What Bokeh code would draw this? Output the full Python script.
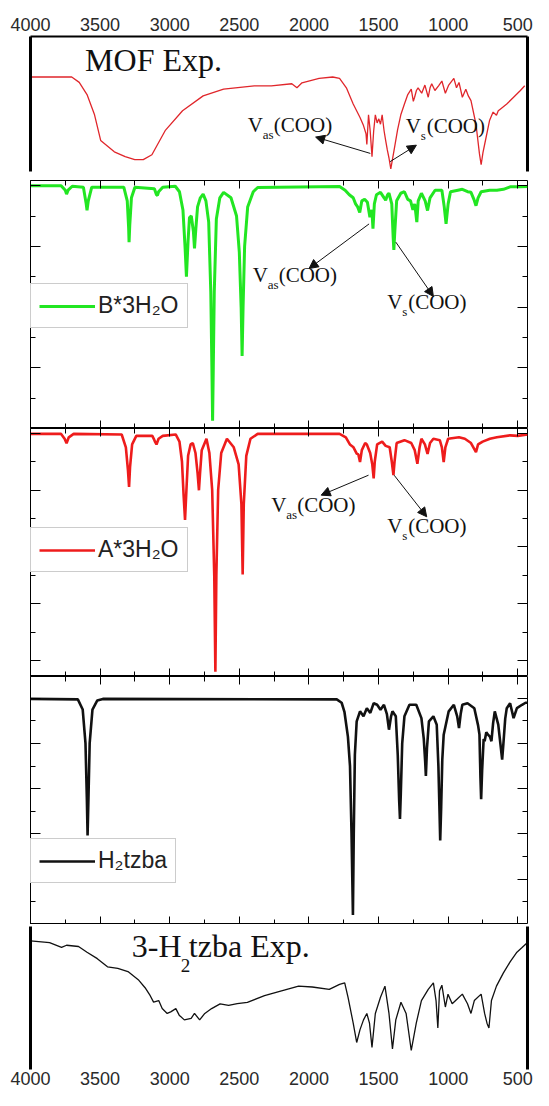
from bokeh.plotting import figure
from bokeh.models import (Range1d, LinearAxis, FixedTicker, Arrow, NormalHead, Label,
                          Legend, LegendItem)
from bokeh.layouts import column
from bokeh.embed import file_html
from bokeh.resources import INLINE

# ---------------- data (wavenumber in cm-1, transmittance in arbitrary panel units) ----------
x_ticks = [4000, 3500, 3000, 2500, 2000, 1500, 1000, 500]
x_minor = [4000, 3750, 3500, 3250, 3000, 2750, 2500, 2250, 2000, 1750, 1500, 1250, 1000, 750, 500]

mof_wn = [4000, 3704, 3650, 3594, 3540, 3496, 3398, 3320, 3251, 3190, 3128, 3030, 2908, 2760, 2613,
          2393, 2270, 2123, 2086, 2050, 1927, 1829, 1780, 1731, 1682, 1633, 1608, 1590, 1584, 1572,
          1560, 1547, 1535, 1523, 1510, 1498, 1486, 1474, 1460, 1449, 1437, 1425, 1412, 1400, 1388,
          1363, 1340, 1314, 1290, 1265, 1250, 1241, 1228, 1216, 1190, 1167, 1143, 1130, 1118, 1095,
          1069, 1045, 1020, 996, 959, 940, 922, 898, 873, 855, 836, 800, 775, 763, 750, 738, 702,
          677, 653, 640, 628, 579, 530, 481, 450]
mof_t = [70, 70, 66, 57, 42, 23, 14.6, 11, 8.8, 8.8, 12.4, 30.7, 45, 56, 61,
         63.5, 63.5, 65, 62, 65.7, 69, 70, 69, 62, 50, 40, 34, 28, 20, 42,
         30, 11, 30, 42, 36, 39, 35, 42, 30, 23, 16, 10, 2, 9, 16,
         31, 42, 50, 57, 61, 52, 55, 60, 62, 58, 64, 55, 62, 65, 60,
         63.5, 67, 58, 64, 69, 62, 66, 55, 61, 56, 52.5, 35, 13, 5, 14, 20, 38,
         44, 41.6, 45, 46, 50, 55, 60, 63.5]

b_wn = [4000, 3780, 3750, 3741, 3730, 3700, 3620, 3600, 3594, 3585, 3560, 3330, 3305, 3295, 3292,
        3287, 3275, 3250, 3110, 3095, 3088, 3080, 3050, 2960, 2930, 2905, 2890, 2880, 2868, 2858,
        2845, 2830, 2822, 2812, 2800, 2780, 2760, 2740, 2720, 2705, 2697, 2692, 2687, 2680, 2665,
        2640, 2613, 2560, 2520, 2500, 2487, 2480, 2473, 2462, 2440, 2400, 2368, 1780, 1740, 1710,
        1682, 1665, 1650, 1635, 1620, 1600, 1580, 1562, 1548, 1540, 1530, 1515, 1486, 1460, 1449,
        1435, 1425, 1405, 1395, 1390, 1383, 1370, 1340, 1314, 1290, 1270, 1253, 1240, 1225, 1215,
        1192, 1165, 1148, 1130, 1094, 1045, 1028, 1015, 1000, 983, 930, 898, 860, 836, 815, 800,
        785, 763, 702, 650, 603, 555, 481, 430]
b_t = [8.0, 8.0, 7.85, 7.72, 7.85, 7.98, 7.95, 7.4, 7.19, 7.5, 7.95, 7.95, 7.5, 6.6, 6.14,
       6.7, 7.6, 7.95, 7.9, 7.7, 7.68, 7.8, 7.95, 7.98, 7.8, 7.2, 6.0, 5.0, 6.2, 6.95,
       7.0, 6.5, 5.93, 6.6, 7.3, 7.6, 7.72, 7.5, 6.8, 4.5, 2.0, 0.26, 2.0, 4.5, 6.9,
       7.6, 7.78, 7.6, 7.0, 5.8, 4.0, 2.39, 4.0, 6.0, 7.3, 7.8, 7.94, 7.97, 7.85, 7.7,
       7.6, 7.4, 7.3, 7.12, 7.5, 7.55, 7.45, 6.96, 7.2, 6.58, 7.4, 7.7, 7.78, 7.6, 7.52,
       7.7, 7.75, 7.4, 6.3, 5.88, 6.5, 7.5, 7.75, 7.8, 7.55, 7.5, 7.2, 7.4, 6.8, 7.5,
       7.75, 7.5, 7.18, 7.6, 7.85, 7.85, 7.3, 6.74, 7.4, 7.8, 7.85, 7.88, 7.8, 7.78, 7.55, 7.34,
       7.6, 7.8, 7.85, 7.85, 7.88, 7.96, 7.96, 7.97]

a_wn = [4000, 3780, 3755, 3741, 3725, 3690, 3345, 3315, 3300, 3292, 3285, 3270, 3240, 3125, 3110,
        3104, 3095, 3080, 3050, 2957, 2930, 2912, 2900, 2890, 2880, 2868, 2850, 2834, 2815, 2800,
        2790, 2782, 2770, 2736, 2715, 2695, 2680, 2672, 2665, 2652, 2630, 2589, 2540, 2505, 2485,
        2476, 2468, 2450, 2420, 2368, 1780, 1735, 1706, 1680, 1657, 1645, 1633, 1620, 1596, 1584,
        1560, 1545, 1535, 1527, 1510, 1474, 1449, 1420, 1405, 1393, 1385, 1370, 1314, 1265, 1240,
        1221, 1205, 1192, 1167, 1148, 1130, 1106, 1060, 1045, 1032, 1020, 1000, 922, 880, 836,
        800, 785, 752, 700, 650, 555, 500, 430]
a_t = [7.97, 7.97, 7.8, 7.64, 7.85, 7.97, 7.95, 7.5, 6.7, 6.11, 6.8, 7.6, 7.9, 7.9, 7.75,
       7.68, 7.6, 7.8, 7.9, 7.95, 7.7, 7.0, 5.8, 4.95, 6.0, 7.2, 7.6, 7.65, 7.3, 6.6,
       5.99, 6.6, 7.4, 7.8, 7.3, 6.0, 3.0, -0.38, 3.0, 6.0, 7.3, 7.8, 7.5, 6.9, 5.5,
       3.03, 5.5, 7.2, 7.8, 7.97, 7.97, 7.85, 7.6, 7.5, 7.28, 7.25, 6.98, 7.4, 7.65, 7.6,
       7.3, 6.9, 6.41, 7.0, 7.6, 7.7, 7.55, 7.5, 7.0, 6.52, 7.0, 7.65, 7.75, 7.65, 7.4,
       6.92, 7.5, 7.8, 7.6, 7.27, 7.65, 7.8, 7.75, 7.5, 6.98, 7.5, 7.8, 7.85, 7.8, 7.65,
       7.33, 7.6, 7.7, 7.8, 7.85, 7.92, 7.9, 7.95]

h2_wn = [4000, 3660, 3625, 3605, 3595, 3590, 3584, 3575, 3555, 3520, 3480, 1800, 1765, 1745, 1720,
         1705, 1694, 1684, 1678, 1670, 1657, 1633, 1608, 1584, 1559, 1535, 1510, 1486, 1461, 1440,
         1425, 1410, 1400, 1376, 1362, 1352, 1346, 1340, 1330, 1314, 1278, 1229, 1192, 1175, 1165,
         1160, 1152, 1138, 1106, 1082, 1070, 1062, 1057, 1050, 1042, 1032, 996, 959, 935, 922,
         910, 898, 861, 812, 785, 775, 768, 763, 756, 745, 738, 726, 714, 700, 689, 677, 665,
         640, 625, 612, 603, 590, 579, 555, 530, 506, 469, 444, 430]
h2_t = [9.97, 9.95, 9.5, 8.0, 5.5, 3.93, 5.5, 8.0, 9.5, 9.9, 9.97, 9.95, 9.8, 9.4, 8.3,
        7.0, 4.0, 0.42, 4.0, 7.5, 8.98, 9.42, 9.2, 9.56, 9.35, 9.78, 9.71, 9.49, 9.71, 9.3,
        8.61, 9.2, 9.42, 9.2, 7.5, 5.5, 4.66, 5.8, 8.0, 9.2, 9.71, 9.71, 9.12, 8.2, 7.2,
        6.56, 7.8, 8.98, 9.2, 8.83, 7.0, 5.0, 3.71, 5.2, 7.3, 8.39, 9.42, 9.71, 9.2, 8.68,
        9.3, 9.71, 9.78, 9.56, 8.8, 8.39, 6.5, 5.54, 6.8, 8.2, 8.1, 8.5, 8.39, 8.3, 8.1, 8.9, 9.42,
        8.83, 8.0, 7.29, 8.0, 9.1, 9.56, 9.78, 9.12, 9.56, 9.71, 9.8, 9.8]

exp_wn = [4000, 3863, 3777, 3741, 3655, 3594, 3520, 3447, 3373, 3300, 3226, 3177, 3140, 3116, 3079,
          3054, 3018, 2993, 2956, 2932, 2895, 2846, 2822, 2785, 2748, 2699, 2638, 2577, 2515, 2442,
          2319, 2197, 2074, 1976, 1854, 1780, 1743, 1719, 1682, 1657, 1633, 1608, 1584, 1565, 1547,
          1523, 1486, 1454, 1425, 1400, 1376, 1339, 1302, 1265, 1229, 1192, 1143, 1106, 1087, 1074,
          1062, 1045, 1020, 1001, 971, 935, 898, 861, 836, 812, 763, 738, 721, 707, 689, 653, 604,
          555, 506, 469, 432]
exp_t = [89.9, 88.7, 85.4, 86.9, 86, 82, 77.5, 71.8, 70.7, 68.5, 62.8, 57.2, 51.6, 47.1, 48.2,
         42.6, 39.2, 40.3, 42.6, 38, 34.7, 35.8, 39.2, 34.7, 39.2, 42.6, 45.9, 44.8, 46, 47,
         51.6, 55, 58.3, 57.7, 56, 59.5, 60.6, 50.5, 32.4, 18.9, 27.9, 34.7, 39.2, 32.4, 15.5,
         39.2, 50.5, 58.3, 39.2, 14.4, 34.7, 47, 39.2, 13.3, 32.4, 48.2, 56, 60.6, 48.2, 29,
         55, 59, 43.7, 52.7, 46, 49.3, 52.7, 46, 39.2, 48.2, 52.7, 39.2, 32.4, 29, 48.2, 58.3, 67.4,
         75.2, 82, 85.3, 88.7]

# ---------------- layout constants ----------------
W = 533
ML, MR = 30, 6
X_START, X_END = 4000, 430
SANS = "Liberation Sans"
SERIF = "Liberation Serif"


def new_fig(height, yr, top=0, bottom=0):
    p = figure(width=W, height=height, x_range=Range1d(X_START, X_END), y_range=Range1d(*yr),
               output_backend="svg", toolbar_location=None,
               x_axis_location=None, y_axis_location=None,
               min_border_left=ML, min_border_right=MR, min_border_top=top, min_border_bottom=bottom)
    p.grid.visible = False
    p.background_fill_color = "white"
    p.border_fill_color = "white"
    return p


def hidden_labels():
    return dict(major_label_text_font_size="0px", major_label_standoff=0,
                major_label_text_color=None)


def thick_border(p):
    for side in ("left", "right"):
        ax = LinearAxis(ticker=FixedTicker(ticks=[]), axis_line_width=3, axis_line_color="black",
                        major_tick_in=0, major_tick_out=0, minor_tick_in=0, minor_tick_out=0,
                        **hidden_labels())
        p.add_layout(ax, side)


def label_axis(standoff):
    return LinearAxis(ticker=FixedTicker(ticks=x_ticks), major_tick_in=0, major_tick_out=0,
                      minor_tick_in=0, minor_tick_out=0, major_label_standoff=standoff,
                      major_label_text_font=SANS, major_label_text_font_size="18px",
                      major_label_text_color="#2a2a2a")


def inward_axes(p, yticks, yminor):
    xt = FixedTicker(ticks=x_ticks, minor_ticks=x_minor)
    yt = FixedTicker(ticks=yticks, minor_ticks=yminor)
    for side, tk, mj, mn in (("above", xt, 8, 5), ("below", xt, 8, 5),
                             ("left", yt, 10, 5), ("right", yt, 10, 5)):
        ax = LinearAxis(ticker=tk, major_tick_in=mj, major_tick_out=0, minor_tick_in=mn,
                        minor_tick_out=0, axis_line_color=None,
                        major_tick_line_color="black", minor_tick_line_color="black",
                        **hidden_labels())
        p.add_layout(ax, side)
    p.outline_line_color = "black"
    p.outline_line_width = 1


def nu_label(p, x, y, sub, size=21):
    # V with subscript, followed by (COO)
    p.add_layout(Label(x=x, y=y, text="V", text_font=SERIF, text_font_size=f"{size}px",
                       text_color="#111"))
    p.add_layout(Label(x=x, y=y, x_offset=15, y_offset=-5, text=sub, text_font=SERIF,
                       text_font_size="13px", text_color="#111"))
    off = 15 + (11 if sub == "as" else 6)
    p.add_layout(Label(x=x, y=y, x_offset=off, text="(COO)", text_font=SERIF,
                       text_font_size=f"{size}px", text_color="#111"))


def arrow(p, xs, ys, xe, ye):
    p.add_layout(Arrow(end=NormalHead(size=9, line_color="#111", fill_color="#111"),
                       x_start=xs, y_start=ys, x_end=xe, y_end=ye,
                       line_color="#111", line_width=1))


def legend(p, r, text, loc):
    leg = Legend(items=[LegendItem(label=text, renderers=[r])], location=loc,
                 label_text_font=SANS, label_text_font_size="23px", label_text_color="#222",
                 glyph_width=56, glyph_height=24, label_height=24, label_standoff=3,
                 padding=8, margin=0, spacing=0, border_line_color="#9a9a9a",
                 border_line_width=1, background_fill_color="white", background_fill_alpha=1)
    p.add_layout(leg)


# ---------------- panel 1 : MOF experimental ----------------
p1 = new_fig(180, (0, 100), top=36, bottom=9)
p1.outline_line_color = None
top_ax = label_axis(6)
top_ax.axis_line_width = 2
p1.add_layout(top_ax, "above")
thick_border(p1)
p1.line(mof_wn, mof_t, line_color="#e0262b", line_width=1.3)
p1.add_layout(Label(x=3608, y=69.5, text="MOF Exp.", text_font=SERIF, text_font_size="32px",
                    text_color="#111"))
nu_label(p1, 2439, 25.5, "as")
nu_label(p1, 1305, 24.5, "s")
arrow(p1, 1559, 13.4, 1952, 25.5)
arrow(p1, 1417, 7.3, 1228, 19.5)

# ---------------- panel 2 : B*3H2O (calc) ----------------
p2 = new_fig(248, (0, 8.17))
inward_axes(p2, [0, 2, 4, 6, 8], [1, 3, 5, 7])
r2 = p2.line(b_wn, b_t, line_color="#22e622", line_width=3)
legend(p2, r2, "B*3H\u2082O", (0, 100))
arrow(p2, 1568, 6.74, 1999, 5.27)
arrow(p2, 1376, 6.14, 1106, 4.35)
nu_label(p2, 2404, 4.67, "as")
nu_label(p2, 1438, 3.76, "s")

# ---------------- panel 3 : A*3H2O (calc) ----------------
p3 = new_fig(248, (-0.55, 8.16))
inward_axes(p3, [0, 2, 4, 6, 8], [1, 3, 5, 7])
r3 = p3.line(a_wn, a_t, line_color="#ee1c1c", line_width=2.6)
legend(p3, r3, "A*3H\u2082O", (0, 104))
arrow(p3, 1572, 6.52, 1912, 5.82)
arrow(p3, 1388, 6.52, 1154, 5.06)
nu_label(p3, 2271, 5.05, "as")
nu_label(p3, 1438, 4.32, "s")

# ---------------- panel 4 : H2tzba (calc) ----------------
p4 = new_fig(248, (0, 10.96))
inward_axes(p4, [2, 4, 6, 8, 10], [1, 3, 5, 7, 9])
r4 = p4.line(h2_wn, h2_t, line_color="#111111", line_width=2.6)
legend(p4, r4, "H\u2082tzba", (0, 41))

# ---------------- panel 5 : 3-H2tzba experimental ----------------
p5 = new_fig(166, (0, 100), top=2, bottom=21)
p5.outline_line_color = None
bot_ax = label_axis(2)
bot_ax.axis_line_color = None
p5.add_layout(bot_ax, "below")
thick_border(p5)
p5.line(exp_wn, exp_t, line_color="#111111", line_width=1.3)
p5.add_layout(Label(x=3272, y=74, text="3-H", text_font=SERIF, text_font_size="32px",
                    text_color="#111"))
p5.add_layout(Label(x=3272, y=74, x_offset=49, y_offset=-8, text="2", text_font=SERIF,
                    text_font_size="19px", text_color="#111"))
p5.add_layout(Label(x=3272, y=74, x_offset=57, text="tzba Exp.", text_font=SERIF,
                    text_font_size="32px", text_color="#111"))

layout = column(p1, p2, p3, p4, p5, spacing=0)
open("out.html", "w").write(file_html(layout, INLINE))
